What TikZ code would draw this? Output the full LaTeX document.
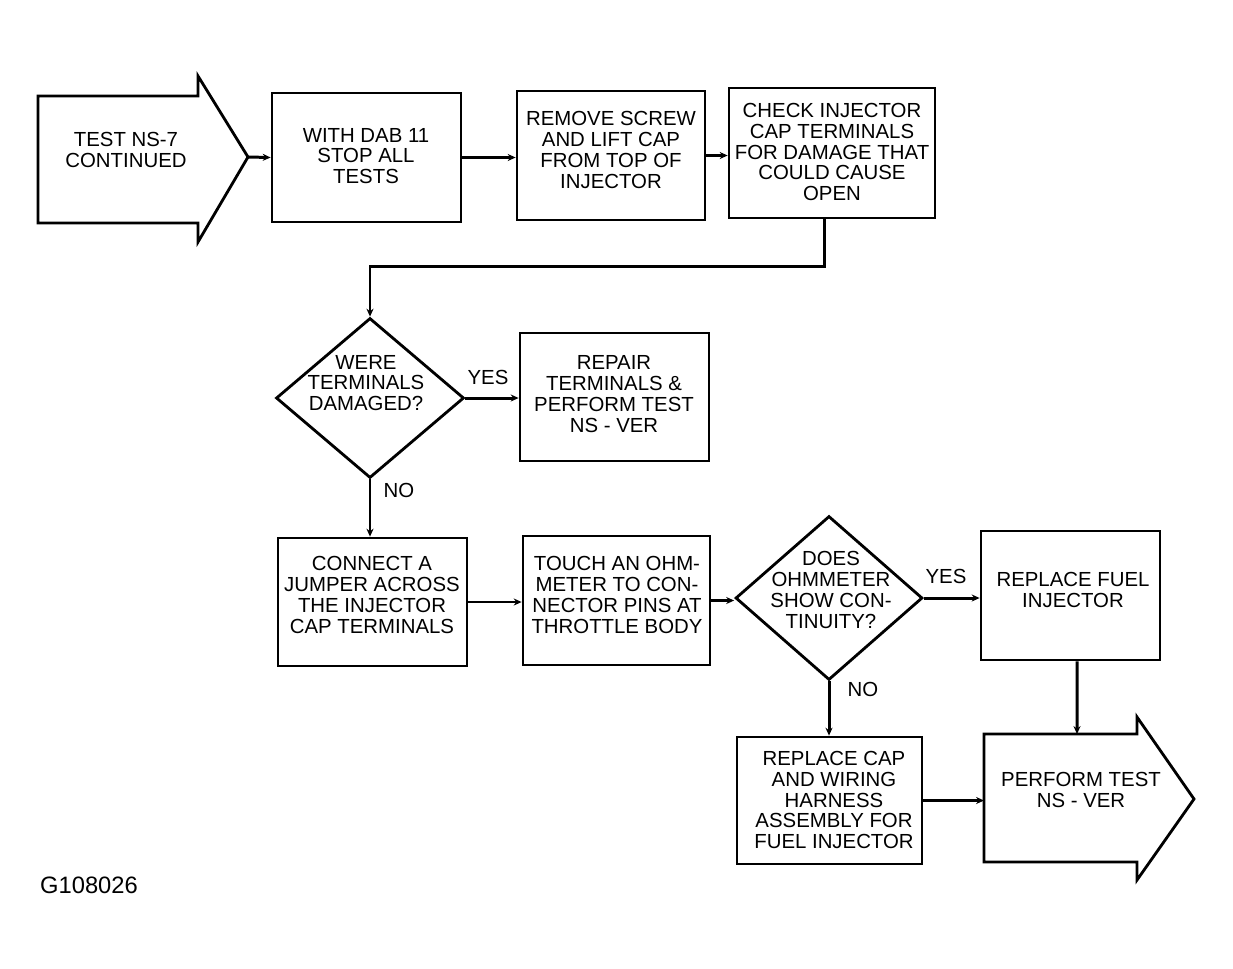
\documentclass[tikz,border=0pt]{standalone}
\usepackage{fontspec}
\setmainfont{Liberation Sans}
\usetikzlibrary{shapes.geometric,arrows.meta}
\begin{document}
\begin{tikzpicture}[x=0.02cm,y=-0.02cm,
  box/.style={draw,line width=1.6pt,inner sep=0pt},
  dia/.style={draw,diamond,line width=1.6pt,inner sep=0pt},
  txt/.style={align=center,font=\fontsize{11.6}{11.9}\selectfont,inner sep=0pt},
  lbl/.style={font=\fontsize{11.6}{11.9}\selectfont,inner sep=0pt},
  conn/.style={line width=1.7pt,-{Stealth[length=4.5pt,width=4pt]}},
  thin/.style={line width=0.9pt,-{Stealth[length=4.5pt,width=4pt]}}]
\path[use as bounding box,fill=white] (0,0) rectangle (1233,968);

% start arrow
\draw[line width=1.6pt,line join=miter] (38,96) -- (198,96) -- (198,76) -- (248,157) -- (198,242) -- (198,223) -- (38,223) -- cycle;
\coordinate (stip) at (248,157);
\node[txt] (st) at (126,150) {TEST NS-7\\CONTINUED};

% boxes
\node[box,minimum width=3.78cm,minimum height=2.58cm] (b2) at (366.5,157.5) {};
\node[txt] (t2) at (366,156) {WITH DAB 11\\STOP ALL\\TESTS};
\node[box,minimum width=3.76cm,minimum height=2.58cm] (b3) at (611,155.5) {};
\node[txt] (t3) at (611,150) {REMOVE SCREW\\AND LIFT CAP\\FROM TOP OF\\INJECTOR};
\node[box,minimum width=4.12cm,minimum height=2.6cm] (b4) at (832,153) {};
\node[txt] (t4) at (832,152) {CHECK INJECTOR\\CAP TERMINALS\\FOR DAMAGE THAT\\COULD CAUSE\\OPEN};

\node[dia,minimum width=3.76cm,minimum height=3.2cm] (d1) at (370,398) {};
\node[txt] (td1) at (366,383) {WERE\\TERMINALS\\DAMAGED?};
\node[box,minimum width=3.78cm,minimum height=2.56cm] (rep) at (614.5,397) {};
\node[txt] (trep) at (614,394) {REPAIR\\TERMINALS \&\\PERFORM TEST\\NS - VER};

\node[box,minimum width=3.78cm,minimum height=2.56cm] (b5) at (372.5,602) {};
\node[txt] (t5) at (372,595) {CONNECT A\\JUMPER ACROSS\\THE INJECTOR\\CAP TERMINALS};
\node[box,minimum width=3.74cm,minimum height=2.58cm] (b6) at (616.5,600.5) {};
\node[txt] (t6) at (617,595) {TOUCH AN OHM-\\METER TO CON-\\NECTOR PINS AT\\THROTTLE BODY};
\node[dia,minimum width=3.74cm,minimum height=3.28cm] (d2) at (829,598) {};
\node[txt] (td2) at (831,590) {DOES\\OHMMETER\\SHOW CON-\\TINUITY?};
\node[box,minimum width=3.58cm,minimum height=2.58cm] (b7) at (1070.5,595.5) {};
\node[txt] (t7) at (1073,590) {REPLACE FUEL\\INJECTOR};
\node[box,minimum width=3.7cm,minimum height=2.54cm] (b8) at (829.5,800.5) {};
\node[txt] (t8) at (834,800) {REPLACE CAP\\AND WIRING\\HARNESS\\ASSEMBLY FOR\\FUEL INJECTOR};

% end arrow
\draw[line width=1.6pt,line join=miter] (984,734) -- (1137,734) -- (1137,717) -- (1194,799) -- (1137,880) -- (1137,862) -- (984,862) -- cycle;
\coordinate (ew) at (984,799);
\coordinate (en) at (1077,734);
\node[txt] (te) at (1081,790) {PERFORM TEST\\NS - VER};

\node[lbl,font=\fontsize{13.5}{14}\selectfont] (code) at (89,885) {G108026};

% connectors
\draw[conn] (stip) -- (b2.west);
\draw[conn,line width=2pt] (b2.east) -- (b2.east -| b3.west);
\draw[conn] (b3.east) -- (b3.east -| b4.west);
\coordinate (c1) at (824,266);
\draw[conn] ([xshift=-0.16cm]b4.south) |- (c1) -| (d1.north);
\draw[conn] (d1.east) -- (d1.east -| rep.west);
\node[lbl] (yes1) at (488,377) {YES};
\draw[conn] (d1.south) -- (d1.south |- b5.north);
\node[lbl] (no1) at (399,490) {NO};
\draw[thin] (b5.east) -- (b5.east -| b6.west);
\draw[conn] (b6.east) -- (b6.east -| d2.west);
\draw[conn] (d2.east) -- (d2.east -| b7.west);
\node[lbl] (yes2) at (946,576) {YES};
\draw[conn] (d2.south) -- (d2.south |- b8.north);
\node[lbl] (no2) at (863,689) {NO};
\draw[conn] (b8.east) -- (b8.east -| ew);
\draw[conn] ([xshift=0.13cm]b7.south) -- (en);
\end{tikzpicture}
\end{document}
